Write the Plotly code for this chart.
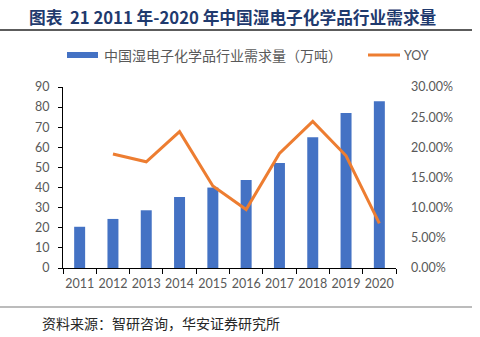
import plotly.graph_objects as go

years = ["2011", "2012", "2013", "2014", "2015", "2016", "2017", "2018", "2019", "2020"]
demand = [20.5, 24.4, 28.7, 35.3, 40.0, 43.8, 52.2, 65.0, 77.1, 82.9]
yoy_years = ["2012", "2013", "2014", "2015", "2016", "2017", "2018", "2019", "2020"]
yoy = [0.189, 0.176, 0.226, 0.136, 0.097, 0.190, 0.243, 0.186, 0.074]

bar_name = "中国湿电子化学品行业需求量（万吨）"
line_name = "YOY"
title_text = "图表  21 2011 年-2020 年中国湿电子化学品行业需求量"
source_text = "资料来源：智研咨询，华安证券研究所"

BLUE = "#4472C4"
ORANGE = "#ED7D31"
GRAY = "#595959"
NUM_FONT = "Lato, 'Noto Sans CJK SC', sans-serif"
CJK_FONT = "'Noto Sans CJK SC', sans-serif"

# plot area in pixels
L, R, T, B = 63, 84, 87, 69
W, H = 480, 337

def px_x(px):
    return (px - L) / (W - L - R)

def px_y(py):
    return (H - B - py) / (H - T - B)

fig = go.Figure()
fig.add_trace(go.Bar(
    x=years, y=demand, name=bar_name, marker_color=BLUE,
    marker_line_width=0, width=0.33, yaxis="y", showlegend=False,
))
fig.add_trace(go.Scatter(
    x=yoy_years, y=yoy, name=line_name, mode="lines",
    line=dict(color=ORANGE, width=3), yaxis="y2", showlegend=False,
))

fig.update_layout(
    width=W, height=H,
    margin=dict(l=L, r=R, t=T, b=B),
    paper_bgcolor="white", plot_bgcolor="white",
    font=dict(family=NUM_FONT, size=12, color=GRAY),
    xaxis=dict(
        type="category", showline=True, linecolor="black", linewidth=1,
        ticks="outside", tickson="boundaries", ticklen=5, tickcolor="black",
        tickangle=0, ticklabelstandoff=4,
        tickfont=dict(family=NUM_FONT, size=12.5, color=GRAY),
        showgrid=False, zeroline=False,
    ),
    yaxis=dict(
        range=[0, 90], dtick=10, showline=True, linecolor="black", linewidth=1,
        ticks="outside", ticklen=4, tickcolor="black", ticklabelstandoff=6,
        tickfont=dict(family=NUM_FONT, size=12.5, color=GRAY),
        showgrid=False, zeroline=False,
    ),
    yaxis2=dict(
        range=[0, 0.30], dtick=0.05, overlaying="y", side="right",
        tickformat=".2%", showline=False, showgrid=False, zeroline=False,
        ticks="", ticklabelstandoff=14,
        tickfont=dict(family=NUM_FONT, size=12.5, color=GRAY),
    ),
)

shapes = []
annotations = []

# Title and its rule
annotations.append(dict(
    x=px_x(27), y=px_y(17), xref="paper", yref="paper",
    text="<b>" + title_text + "</b>", showarrow=False,
    xanchor="left", yanchor="middle",
    font=dict(family=CJK_FONT, size=16.7, color="#1F3A6E"),
))
shapes.append(dict(type="line", xref="paper", yref="paper",
                   x0=px_x(0), x1=px_x(472), y0=px_y(30), y1=px_y(30),
                   line=dict(color="#262626", width=1.5)))

# Legend
shapes.append(dict(type="rect", xref="paper", yref="paper",
                   x0=px_x(67), x1=px_x(98), y0=px_y(52), y1=px_y(58),
                   fillcolor=BLUE, line=dict(width=0)))
annotations.append(dict(
    x=px_x(102), y=px_y(55), xref="paper", yref="paper", text=bar_name,
    showarrow=False, xanchor="left", yanchor="middle",
    font=dict(family=CJK_FONT, size=14, color=GRAY),
))
shapes.append(dict(type="line", xref="paper", yref="paper",
                   x0=px_x(368), x1=px_x(400), y0=px_y(55), y1=px_y(55),
                   line=dict(color=ORANGE, width=3)))
annotations.append(dict(
    x=px_x(402), y=px_y(55), xref="paper", yref="paper", text=line_name,
    showarrow=False, xanchor="left", yanchor="middle",
    font=dict(family=NUM_FONT, size=12.5, color=GRAY),
))

# Footer rule and source note
shapes.append(dict(type="line", xref="paper", yref="paper",
                   x0=px_x(0), x1=px_x(472), y0=px_y(307), y1=px_y(307),
                   line=dict(color="#A6A6A6", width=1.5)))
annotations.append(dict(
    x=px_x(40), y=px_y(323), xref="paper", yref="paper", text=source_text,
    showarrow=False, xanchor="left", yanchor="middle",
    font=dict(family=CJK_FONT, size=14, color="#262626"),
))

fig.update_layout(shapes=shapes, annotations=annotations)

fig.write_html("out.html")
